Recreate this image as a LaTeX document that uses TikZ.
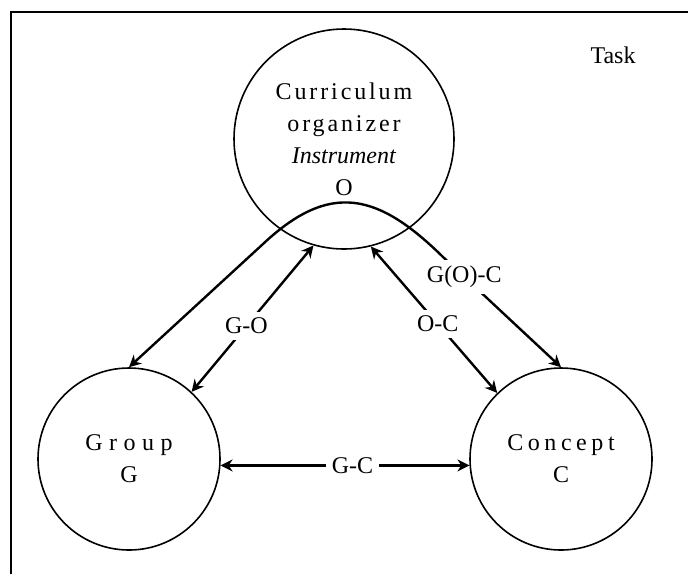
\documentclass[tikz,border=0pt]{standalone}
\usepackage{fontspec}
\setmainfont{Liberation Serif}
\usetikzlibrary{arrows.meta}
\newcommand{\spaced}[2]{{\addfontfeatures{LetterSpace=#1}#2}}

\begin{document}
\begin{tikzpicture}[x=0.5pt,y=-0.5pt,
    every node/.style={font=\fontsize{12}{16}\selectfont},
    corner/.style={draw, circle, line width=0.8pt, align=center, inner sep=0pt},
    link/.style={line width=1.2pt, {Stealth[length=6pt,width=6pt]}-{Stealth[length=6pt,width=6pt]}},
    tag/.style={fill=white, inner sep=3pt}]
  \useasboundingbox (0,0) rectangle (688,574);
  % frame
  \draw[line width=1pt] (11,574) -- (11,12) -- (688,12);
  \node (task) at (613,55) {Task};
  % corners
  \node[corner, minimum size=110pt] (O) at (344,139) {\spaced{12}{Curriculum}\\ \spaced{12}{organizer}\\ \textit{Instrument}\\ O};
  \node[corner, minimum size=91pt] (G) at (129,459) {\spaced{27}{Group}\\ G};
  \node[corner, minimum size=91pt] (C) at (561,459) {\spaced{19}{Concept}\\ C};
  % links
  \draw[link] (G.47) -- node[tag, pos=0.45] {G-O} (O.254);
  \draw[link] (O.284) -- node[tag, pos=0.53] {O-C} (C.134);
  \draw[link] (G.-4) -- node[tag, pos=0.53] {G-C} (C.184);
  % G(O)-C over the top of O
  \coordinate (arcL) at (263,244);
  \coordinate (arcR) at (443,257);
  \draw[link] (G.north) -- (arcL) .. controls (330,181) and (378,193) .. (arcR)
    -- node[tag, pos=0.18] {G(O)-C} (C.north);
\end{tikzpicture}
\end{document}
